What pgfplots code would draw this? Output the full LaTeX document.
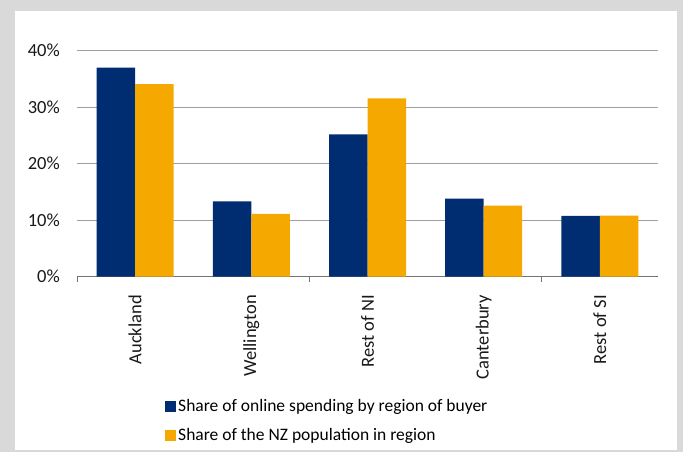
\documentclass[border=0pt]{standalone}
\usepackage{pgfplots}
\pgfplotsset{compat=1.18}
\usepackage{fontspec}
\setmainfont{Carlito}
\definecolor{navy}{RGB}{0,45,114}
\definecolor{gold}{RGB}{245,169,0}
\definecolor{framegray}{RGB}{217,217,217}
\begin{document}
\begin{tikzpicture}[x=1bp,y=1bp]
\fill[framegray] (0,0) rectangle (683,452);
\fill[white] (15,2) rectangle (677,441);
\begin{axis}[
  at={(77bp,175.3bp)}, anchor=south west,
  scale only axis, width=581bp, height=226bp,
  ybar=0pt, bar width=38.5bp,
  xmin=-0.5, xmax=4.5, ymin=0, ymax=40,
  ytick={0,10,20,30,40},
  yticklabel={\pgfmathprintnumber{\tick}\%},
  /pgf/number format/assume math mode=true,
  xtick={0,1,2,3,4},
  xticklabels={Auckland,Wellington,Rest of NI,Canterbury,Rest of SI},
  xtick style={draw=none},
  ytick style={draw=none},
  extra x ticks={-0.5,1.5,3.5},
  extra x tick labels={},
  extra x tick style={tick align=outside, major tick length=5bp, xtick style={draw=gray!90!black, line width=0.8pt}, grid=none},
  axis x line*=bottom, axis y line*=left,
  x axis line style={-, draw=gray!90!black, line width=0.9pt},
  y axis line style={draw=none},
  ymajorgrids, grid style={gray!75, line width=0.7pt},
  tick label style={font=\fontsize{18.5bp}{22bp}\selectfont, text=black!90},
  xticklabel style={rotate=90, anchor=east, inner sep=0pt},
  xticklabel shift=14bp,
  yticklabel style={inner sep=0pt},
  yticklabel shift=17bp,
  legend style={at={(axis description cs:0.1515,-0.535)}, anchor=north west, draw=none, fill=none, inner sep=0pt,
    font=\fontsize{17.5bp}{21bp}\selectfont, row sep=11.5bp, cells={anchor=west, text height=12bp, text depth=4bp}},
  legend image code/.code={\fill[#1] (0bp,-5.3bp) rectangle (11bp,5.3bp);},
]
\addplot[fill=navy, draw=none] coordinates {(0,37.0) (1,13.35) (2,25.2) (3,13.8) (4,10.75)};
\addplot[fill=gold, draw=none] coordinates {(0,34.1) (1,11.1) (2,31.55) (3,12.6) (4,10.8)};
\legend{Share of online spending by region of buyer, Share of the NZ population in region}
\end{axis}
\pgfresetboundingbox
\path[use as bounding box] (0,0) rectangle (683,452);
\end{tikzpicture}
\end{document}
